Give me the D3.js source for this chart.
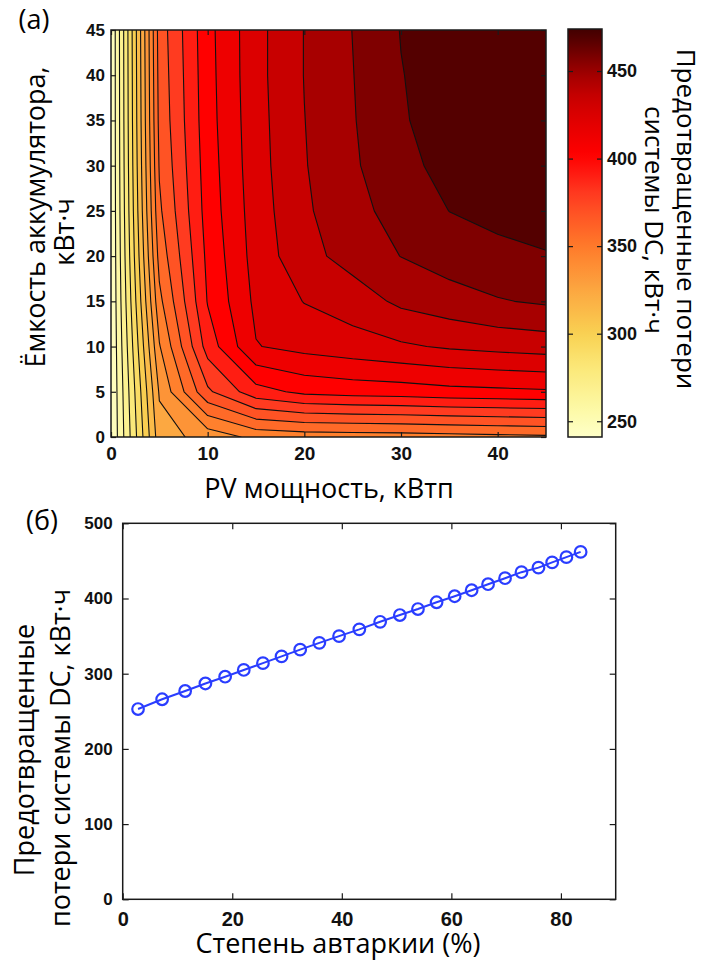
<!DOCTYPE html>
<html>
<head>
<meta charset="utf-8">
<script src="https://cdn.jsdelivr.net/npm/d3@7"></script>
<style>
  body { margin: 0; background: #ffffff; }
</style>
</head>
<body>
<svg id="chart" width="708" height="962"></svg>
<script>
// ---------- panel (a): avoided DC losses vs PV power and battery capacity ----------
const pvGrid      = [0, 5, 10, 15, 20, 25, 30, 35, 40, 45];   // kWp
const batteryGrid = [0, 5, 10, 15, 20, 25, 30, 35, 40, 45];   // kWh
// avoided DC-system losses (kWh), one row per battery capacity, columns follow pvGrid
const lossesBat0  = [241, 325, 334, 344, 346, 346.5, 347, 348, 349, 350];
const lossesBat5  = [241, 331, 372, 392, 399, 401, 402, 404, 405, 406];
const lossesBat10 = [241, 340, 390, 418, 422, 425, 428, 431, 433, 434.5];
const lossesBat15 = [241, 349, 397, 421, 430, 435, 443, 447, 451, 453.3];
const lossesBat20 = [241, 356, 399, 423, 437, 445, 452, 457, 460, 462.3];
const lossesBat25 = [241, 361, 401, 424, 439, 448, 456.5, 463, 466, 467];
const lossesBat30 = [241, 364, 402, 425, 440, 450, 461, 465, 468, 470];
const lossesBat35 = [241, 366, 403, 425.5, 440.5, 451, 462, 467, 470, 472];
const lossesBat40 = [241, 367, 403.5, 426, 441, 451.5, 462.5, 468, 471, 473];
const lossesBat45 = [241, 368, 404, 426, 441, 452, 463.3, 468, 472, 474];
const lossLevels  = [252.1, 263.2, 274.3, 285.4, 296.5, 307.6, 318.7, 329.8, 340.9, 352.0,
                     363.0, 374.1, 385.2, 396.3, 407.4, 418.5, 429.6, 440.7, 451.8, 462.9];
const lossDomain  = [241, 474];
const pvTicks      = [0, 10, 20, 30, 40];
const batteryTicks = [0, 5, 10, 15, 20, 25, 30, 35, 40, 45];
const colorbarTicks = [250, 300, 350, 400, 450];

// ---------- panel (б): avoided losses vs degree of autarky ----------
const autarkyPct    = [2.8, 7.2, 11.4, 15.1, 18.7, 22.1, 25.6, 29.0, 32.4, 35.9, 39.5, 43.2, 47.0,
                       50.6, 53.9, 57.3, 60.6, 63.7, 66.7, 69.8, 72.8, 75.9, 78.4, 81.0, 83.6];
const avoidedLosses = [253, 266, 277, 287, 296, 305, 314, 323, 332, 341, 350, 359, 369,
                       378, 386, 395, 403, 411, 419, 427, 435, 441, 448, 455, 462];
const autarkyTicks = [0, 20, 40, 60, 80];
const lossTicks    = [0, 100, 200, 300, 400, 500];

// colour map for the losses (light yellow -> red -> dark red)
const colorStopValues = [241, 252, 280, 300, 327, 350, 369, 380, 391, 402, 413, 424, 435, 446, 457, 468, 474];
const colorStopColors = ["#ffffc8", "#fdfcb0", "#fbe97a", "#f9d152", "#fca33f", "#ff7a2a", "#ff5224",
                         "#ff3a20", "#ff1c12", "#ff0000", "#ee0000", "#dc0000", "#c80000", "#a80000",
                         "#800000", "#550000", "#420000"];
const lossColor = d3.scaleLinear().domain(colorStopValues).range(colorStopColors).clamp(true);

const titleFont = "'Open Sans', 'Noto Sans', sans-serif";
const tickFont  = "'Liberation Sans', Arial, sans-serif";

const svg = d3.select("#chart");

function styleAxis(g, fontSize) {
  g.select(".domain").remove();
  g.selectAll(".tick line").attr("stroke", "#1a1a1a").attr("stroke-width", 1.2);
  g.selectAll(".tick text")
    .attr("font-family", tickFont).attr("font-weight", "bold")
    .attr("font-size", fontSize).attr("fill", "#111");
}

// ================= panel (a) =================
const xA = d3.scaleLinear().domain([0, 45]).range([111, 546]);
const yA = d3.scaleLinear().domain([0, 45]).range([437, 30]);

const defs = svg.append("defs");
defs.append("clipPath").attr("id", "clipA")
  .append("rect")
  .attr("x", xA(0)).attr("y", yA(45))
  .attr("width", xA(45) - xA(0)).attr("height", yA(0) - yA(45));

const lossRows = [lossesBat0, lossesBat5, lossesBat10, lossesBat15, lossesBat20,
                  lossesBat25, lossesBat30, lossesBat35, lossesBat40, lossesBat45];
const nx = pvGrid.length, ny = batteryGrid.length;
const pvStep = pvGrid[1] - pvGrid[0];
const batStep = batteryGrid[1] - batteryGrid[0];

const bands = d3.contours().size([nx, ny]).thresholds(lossLevels)(lossRows.flat());

// grid coordinates -> pixels (sample i sits at grid coordinate i + 0.5)
const gridToPx = d3.geoTransform({
  point(gx, gy) {
    this.stream.point(
      xA(pvGrid[0] + (gx - 0.5) * pvStep),
      yA(batteryGrid[0] + (gy - 0.5) * batStep)
    );
  }
});
const gridPath = d3.geoPath(gridToPx);

const plotA = svg.append("g").attr("clip-path", "url(#clipA)");
plotA.append("rect")
  .attr("x", xA(0)).attr("y", yA(45))
  .attr("width", xA(45) - xA(0)).attr("height", yA(0) - yA(45))
  .attr("fill", lossColor((lossDomain[0] + lossLevels[0]) / 2));

plotA.selectAll("path.band")
  .data(bands)
  .join("path")
  .attr("class", "band")
  .attr("d", gridPath)
  .attr("fill", (d, i) => {
    const upper = i + 1 < lossLevels.length ? lossLevels[i + 1] : lossDomain[1];
    return lossColor((d.value + upper) / 2);
  })
  .attr("stroke", "none");

plotA.selectAll("path.iso")
  .data(bands)
  .join("path")
  .attr("class", "iso")
  .attr("d", gridPath)
  .attr("fill", "none")
  .attr("stroke", "#111")
  .attr("stroke-width", 1.1)
  .attr("stroke-linejoin", "round");

// axes of panel (a)
svg.append("g").attr("transform", `translate(${xA(0)},0)`)
  .call(d3.axisLeft(yA).tickValues(batteryTicks).tickSize(-5).tickPadding(6))
  .call(g => styleAxis(g, 17));
svg.append("g").attr("transform", `translate(0,${yA(0)})`)
  .call(d3.axisBottom(xA).tickValues(pvTicks).tickSize(-5).tickPadding(10))
  .call(g => styleAxis(g, 19));
svg.append("g").attr("transform", `translate(0,${yA(45)})`)
  .call(d3.axisTop(xA).tickValues(pvTicks).tickSize(-5).tickFormat(""))
  .call(g => styleAxis(g, 16));
svg.append("g").attr("transform", `translate(${xA(45)},0)`)
  .call(d3.axisRight(yA).tickValues(batteryTicks).tickSize(-5).tickFormat(""))
  .call(g => styleAxis(g, 16));
svg.append("rect")
  .attr("x", xA(0)).attr("y", yA(45))
  .attr("width", xA(45) - xA(0)).attr("height", yA(0) - yA(45))
  .attr("fill", "none").attr("stroke", "#1a1a1a").attr("stroke-width", 1.5);

// colour bar
const cScale = d3.scaleLinear().domain(lossDomain).range([437, 29]);
const cbX = 568, cbW = 34;
const grad = defs.append("linearGradient").attr("id", "lossGradient")
  .attr("x1", 0).attr("y1", 1).attr("x2", 0).attr("y2", 0);
grad.selectAll("stop")
  .data(d3.range(0, 1.0001, 0.02))
  .join("stop")
  .attr("offset", t => t)
  .attr("stop-color", t => lossColor(lossDomain[0] + t * (lossDomain[1] - lossDomain[0])));
svg.append("rect")
  .attr("x", cbX).attr("y", cScale(lossDomain[1]))
  .attr("width", cbW).attr("height", cScale(lossDomain[0]) - cScale(lossDomain[1]))
  .attr("fill", "url(#lossGradient)");
svg.append("g").attr("transform", `translate(${cbX + cbW},0)`)
  .call(d3.axisRight(cScale).tickValues(colorbarTicks).tickSize(-5).tickPadding(5))
  .call(g => styleAxis(g, 18));
svg.append("g").attr("transform", `translate(${cbX},0)`)
  .call(d3.axisLeft(cScale).tickValues(colorbarTicks).tickSize(-5).tickFormat(""))
  .call(g => styleAxis(g, 16));
svg.append("rect")
  .attr("x", cbX).attr("y", cScale(lossDomain[1]))
  .attr("width", cbW).attr("height", cScale(lossDomain[0]) - cScale(lossDomain[1]))
  .attr("fill", "none").attr("stroke", "#1a1a1a").attr("stroke-width", 1.5);

// titles of panel (a)
function label(text, x, y, size, rotate, anchor = "middle") {
  svg.append("text")
    .attr("transform", `translate(${x},${y}) rotate(${rotate})`)
    .attr("text-anchor", anchor)
    .attr("font-family", titleFont)
    .attr("font-size", size)
    .attr("fill", "#000")
    .text(text);
}
label("(a)", 34, 29, 27, 0);
label("Ёмкость аккумулятора,", 45, 217, 27, -90);
label("кВт·ч", 74, 232, 27, -90);
label("PV мощность, кВтп", 329, 498, 27, 0);
label("Предотвращенные потери", 677, 219, 26, 90);
label("системы DC, кВт·ч", 645, 220, 26, 90);

// ================= panel (б) =================
const xB = d3.scaleLinear().domain([0, 90]).range([122.7, 615.7]);
const yB = d3.scaleLinear().domain([0, 500]).range([899.3, 523.3]);

svg.append("g").attr("transform", `translate(${xB(0)},0)`)
  .call(d3.axisLeft(yB).tickValues(lossTicks).tickSize(-6).tickPadding(10))
  .call(g => styleAxis(g, 17));
svg.append("g").attr("transform", `translate(0,${yB(0)})`)
  .call(d3.axisBottom(xB).tickValues(autarkyTicks).tickSize(-6).tickPadding(13))
  .call(g => styleAxis(g, 20));
svg.append("g").attr("transform", `translate(0,${yB(500)})`)
  .call(d3.axisTop(xB).tickValues(autarkyTicks).tickSize(-6).tickFormat(""))
  .call(g => styleAxis(g, 16));
svg.append("g").attr("transform", `translate(${xB(90)},0)`)
  .call(d3.axisRight(yB).tickValues(lossTicks).tickSize(-6).tickFormat(""))
  .call(g => styleAxis(g, 16));
svg.append("rect")
  .attr("x", xB(0)).attr("y", yB(500))
  .attr("width", xB(90) - xB(0)).attr("height", yB(0) - yB(500))
  .attr("fill", "none").attr("stroke", "#1a1a1a").attr("stroke-width", 1.5);

const autarkyPoints = autarkyPct.map((a, i) => [a, avoidedLosses[i]]);
const blue = "#2a3dff";
svg.append("path")
  .datum(autarkyPoints)
  .attr("d", d3.line().x(d => xB(d[0])).y(d => yB(d[1])))
  .attr("fill", "none").attr("stroke", blue).attr("stroke-width", 2);
svg.append("g").selectAll("circle")
  .data(autarkyPoints)
  .join("circle")
  .attr("cx", d => xB(d[0])).attr("cy", d => yB(d[1]))
  .attr("r", 5.8)
  .attr("fill", "none").attr("stroke", blue).attr("stroke-width", 2.2);

label("(б)", 42, 530, 27, 0);
label("Предотвращенные", 34, 750, 27, -90);
label("потери системы DC, кВт·ч", 70, 758, 27, -90);
label("Степень автаркии (%)", 338, 953, 27, 0);
</script>
</body>
</html>
